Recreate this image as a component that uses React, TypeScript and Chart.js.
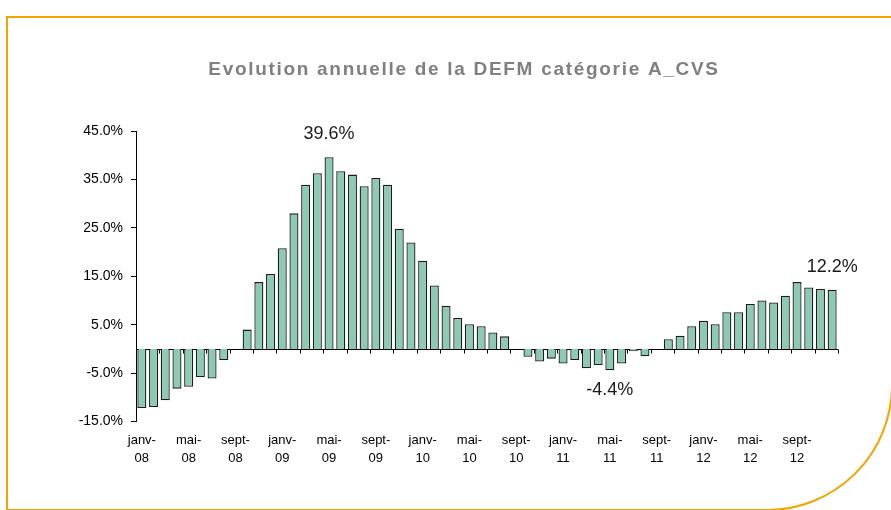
import React, { useEffect, useRef } from "react";
import { Chart, registerables } from "chart.js";

Chart.register(...registerables);

// ---- Data ----
const chartTitle = "Evolution annuelle de la DEFM catégorie A_CVS";

const categories = [
  "janv-08", "févr-08", "mars-08", "avr-08", "mai-08", "juin-08", "juil-08", "août-08", "sept-08", "oct-08", "nov-08", "déc-08",
  "janv-09", "févr-09", "mars-09", "avr-09", "mai-09", "juin-09", "juil-09", "août-09", "sept-09", "oct-09", "nov-09", "déc-09",
  "janv-10", "févr-10", "mars-10", "avr-10", "mai-10", "juin-10", "juil-10", "août-10", "sept-10", "oct-10", "nov-10", "déc-10",
  "janv-11", "févr-11", "mars-11", "avr-11", "mai-11", "juin-11", "juil-11", "août-11", "sept-11", "oct-11", "nov-11", "déc-11",
  "janv-12", "févr-12", "mars-12", "avr-12", "mai-12", "juin-12", "juil-12", "août-12", "sept-12", "oct-12", "nov-12", "déc-12",
];

const evolution = [
  -12.2, -12.0, -10.6, -8.2, -7.8, -5.8, -6.1, -2.3, 0.0, 4.0, 13.8, 15.5,
  20.8, 28.0, 33.9, 36.3, 39.6, 36.7, 36.0, 33.6, 35.3, 33.9, 24.8, 22.0,
  18.2, 13.1, 8.9, 6.4, 5.1, 4.7, 3.4, 2.6, 0.0, -1.6, -2.6, -2.0,
  -3.0, -2.3, -4.0, -3.3, -4.4, -3.0, -0.5, -1.5, 0.0, 2.0, 2.7, 4.7,
  5.8, 5.1, 7.6, 7.6, 9.3, 10.0, 9.6, 11.0, 13.8, 12.7, 12.4, 12.2,
];

const labelledMonths = ["janv", "mai", "sept"];
const annotatedIndices = [16, 40, 59];

const yMin = -15;
const yMax = 45;
const yStep = 10;

const FONT = '"Liberation Sans", Arial, sans-serif';

// Title drawn on the canvas (letter-spaced like the original)
const titlePlugin = {
  id: "customTitle",
  afterDraw(chart: any) {
    const ctx = chart.ctx;
    ctx.save();
    ctx.font = `bold 19px ${FONT}`;
    ctx.fillStyle = "#808080";
    ctx.textAlign = "center";
    ctx.textBaseline = "middle";
    try {
      (ctx as any).letterSpacing = "1.7px";
    } catch (e) {}
    ctx.fillText(chartTitle, 464, 70);
    ctx.restore();
  },
};

// Horizontal axis line at zero with tick marks every two categories
const zeroAxis = {
  id: "zeroAxis",
  beforeDatasetsDraw(chart: any) {
    const { ctx, chartArea } = chart;
    const x = chart.scales.x;
    const y = chart.scales.y;
    const y0 = Math.round(y.getPixelForValue(0)) + 0.5;
    const slot = x.getPixelForValue(1) - x.getPixelForValue(0);
    const start = x.getPixelForValue(0) - slot / 2;
    ctx.save();
    ctx.strokeStyle = "#000";
    ctx.lineWidth = 1;
    ctx.beginPath();
    ctx.moveTo(chartArea.left, y0);
    ctx.lineTo(chartArea.right, y0);
    for (let i = 0; i <= categories.length; i += 2) {
      const px = Math.round(start + i * slot) + 0.5;
      ctx.moveTo(px, y0);
      ctx.lineTo(px, y0 + 4);
    }
    ctx.stroke();
    ctx.restore();
  },
};

const valueLabels = {
  id: "valueLabels",
  afterDatasetsDraw(chart: any) {
    const ctx = chart.ctx;
    const meta = chart.getDatasetMeta(0);
    ctx.save();
    ctx.font = `18px ${FONT}`;
    ctx.fillStyle = "#1a1a1a";
    ctx.textAlign = "center";
    ctx.textBaseline = "middle";
    annotatedIndices.forEach((i) => {
      const bar = meta.data[i];
      const v = evolution[i];
      const y = v >= 0 ? bar.y - 23 : bar.y + 20;
      ctx.fillText(v.toFixed(1) + "%", bar.x, y);
    });
    ctx.restore();
  },
};

export default function App() {
  const canvasRef = useRef<HTMLCanvasElement | null>(null);

  useEffect(() => {
    if (!canvasRef.current) return;
    const chart = new Chart(canvasRef.current, {
      type: "bar",
      data: {
        labels: categories,
        datasets: [
          {
            data: evolution,
            backgroundColor: "#8DCAB3",
            borderColor: "#1c1c1c",
            borderWidth: 1.3,
            barPercentage: 0.77,
            categoryPercentage: 1.0,
          },
        ],
      },
      options: {
        animation: false,
        responsive: false,
        devicePixelRatio: 1,
        layout: { padding: { left: 76, right: 53, top: 131, bottom: 32 } },
        plugins: {
          legend: { display: false },
          tooltip: { enabled: false },
          title: { display: false },
        },
        scales: {
          x: {
            type: "category",
            position: "bottom",
            offset: true,
            grid: { display: false, drawTicks: false, offset: true },
            border: { display: false },
            ticks: {
              autoSkip: false,
              maxRotation: 0,
              minRotation: 0,
              padding: 10,
              color: "#000",
              font: { family: FONT, size: 13, lineHeight: 1.4 },
              callback: (_v: any, i: number) => {
                const [m, y] = categories[i].split("-");
                return labelledMonths.includes(m) ? [m + "-", y] : "";
              },
            },
          },
          y: {
            type: "linear",
            min: yMin,
            max: yMax,
            afterFit: (scale: any) => {
              scale.width = 60;
            },
            ticks: {
              stepSize: yStep,
              padding: 8,
              color: "#000",
              font: { family: FONT, size: 14 },
              callback: (v: any) => Number(v).toFixed(1) + "%",
            },
            grid: {
              drawOnChartArea: false,
              drawTicks: true,
              tickLength: 5,
              tickColor: "#000",
            },
            border: { display: true, color: "#000", width: 1 },
          },
        },
      } as any,
      plugins: [zeroAxis, valueLabels, titlePlugin],
    });
    return () => chart.destroy();
  }, []);

  return (
    <div
      style={{
        position: "fixed",
        left: 0,
        top: 0,
        width: 891,
        height: 510,
        overflow: "hidden",
        background: "#fff",
      }}
    >
      <canvas
        ref={canvasRef}
        width={891}
        height={510}
        style={{ position: "absolute", left: 0, top: 0, width: 891, height: 510 }}
      />
      <div
        style={{
          position: "absolute",
          left: 6,
          top: 16,
          width: 887,
          height: 495,
          boxSizing: "border-box",
          border: "2px solid #F4A300",
          borderBottomRightRadius: 126,
          pointerEvents: "none",
        }}
      />
    </div>
  );
}
